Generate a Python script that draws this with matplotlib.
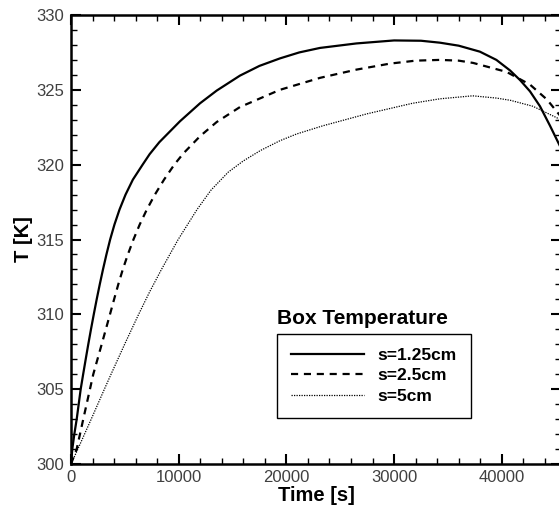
import matplotlib.pyplot as plt
from matplotlib.ticker import MultipleLocator

# s = 1.25 cm
t_a = [0, 120, 310, 530, 900, 1130, 1365, 1605, 1855, 2115, 2385, 2670, 2970, 3290, 3635,
       4035, 4505, 5065, 5745, 6650, 7300, 8200, 10120, 11980, 13530, 15690, 17500, 19400, 21200,
       23120, 26500, 30000, 32500, 34260, 36000, 37970, 39500, 40760, 41700, 42620, 43550, 44480,
       45500]
T_a = [300.0, 301.0, 302.0, 303.0, 305.0, 306.0, 307.0, 308.0, 309.0, 310.0, 311.0, 312.0, 313.0,
       314.0, 315.0, 316.0, 317.0, 318.0, 319.0, 320.0, 320.7, 321.5, 322.9, 324.1, 324.95, 325.95,
       326.6, 327.1, 327.5, 327.8, 328.1, 328.3, 328.28, 328.15, 327.95, 327.55, 327.0, 326.3,
       325.65, 324.9, 323.9, 322.6, 321.1]

# s = 2.5 cm
t_b = [0, 530, 1140, 1760, 2070, 2850, 3620, 4000, 4390, 4810, 5280, 5800, 6380, 7040, 7790,
       8640, 9590, 10430, 11980, 13530, 15690, 19400, 23120, 26500, 29600, 32000, 34260, 36000,
       37330, 40440, 42620, 44200, 45500]
T_b = [300.0, 301.0, 303.0, 305.0, 306.0, 308.0, 310.0, 311.0, 312.0, 313.0, 314.0, 315.0, 316.0,
       317.0, 318.0, 319.0, 320.0, 320.75, 321.9, 322.85, 323.85, 325.0, 325.8, 326.35, 326.75,
       326.95, 327.0, 326.95, 326.8, 326.2, 325.35, 324.35, 323.2]

# s = 5 cm
t_c = [0, 640, 1880, 3100, 3720, 4980, 6280, 7300, 8400, 9950, 11700, 13000, 14600, 16000,
       17600, 19400, 20950, 23400, 27500, 31700, 34260, 37300, 39500, 40800, 42900, 44480, 45500]
T_c = [300.0, 301.0, 303.0, 305.0, 306.0, 308.0, 310.0, 311.5, 313.0, 315.0, 317.0, 318.3, 319.5,
       320.25, 320.95, 321.6, 322.05, 322.6, 323.4, 324.1, 324.4, 324.6, 324.45, 324.3, 323.9,
       323.35, 323.0]

labels = ['s=1.25cm', 's=2.5cm', 's=5cm']

plt.rcParams['font.family'] = ['Liberation Sans', 'DejaVu Sans']

fig = plt.figure(figsize=(5.59, 5.09), dpi=100)
ax = fig.add_axes([71 / 559, 1 - 464 / 509, 490 / 559, 449 / 509])

ax.plot(t_a, T_a, color='black', lw=1.6, ls='-', label=labels[0])
ax.plot(t_b, T_b, color='black', lw=1.6, ls=(0, (3.2, 2.6)), label=labels[1])
ax.plot(t_c, T_c, color='black', lw=0.9, ls=(0, (1, 1)), label=labels[2])

ax.set_xlim(0, 45500)
ax.set_ylim(300, 330)
ax.xaxis.set_major_locator(MultipleLocator(10000))
ax.xaxis.set_minor_locator(MultipleLocator(2000))
ax.yaxis.set_major_locator(MultipleLocator(5))
ax.yaxis.set_minor_locator(MultipleLocator(1))
ax.tick_params(which='both', direction='in', top=True, right=True, width=1.5)
ax.tick_params(which='major', length=7)
ax.tick_params(which='minor', length=4, width=1)
ax.tick_params(axis='x', which='major', labelsize=12, labelcolor='#404040', pad=4.3)
ax.tick_params(axis='y', which='major', labelsize=12, labelcolor='#404040', pad=5)
for sp in ax.spines.values():
    sp.set_linewidth(1.8)

ax.set_xlabel('Time [s]', fontsize=14.5, fontweight='bold', labelpad=0.5)
ax.set_ylabel('T [K]', fontsize=14.5, fontweight='bold', labelpad=2)

fig.text(277 / 559, 1 - 318 / 509, 'Box Temperature', fontsize=15, fontweight='bold',
         ha='left', va='center')
leg = ax.legend(loc='upper left', bbox_to_anchor=(277 / 559, 1 - 334 / 509),
                bbox_transform=fig.transFigure, borderaxespad=0, fancybox=False,
                edgecolor='black', framealpha=1, handlelength=4.2, handletextpad=0.8,
                labelspacing=0.3, borderpad=0.8,
                prop={'size': 12.5, 'weight': 'bold'})
leg.get_frame().set_linewidth(1.0)

fig.savefig('out.png', dpi=100)
